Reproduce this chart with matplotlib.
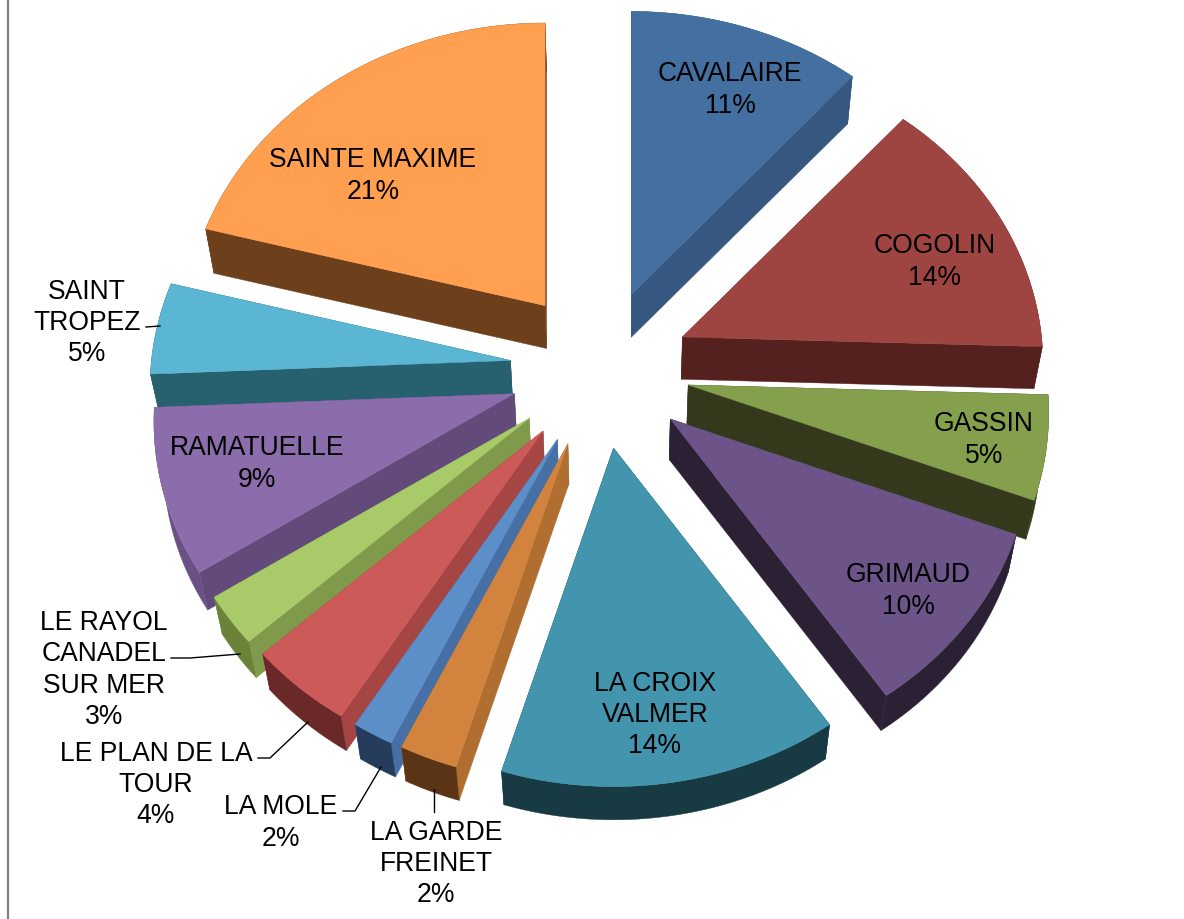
import numpy as np
import matplotlib
matplotlib.use("Agg")
import matplotlib.pyplot as plt
from matplotlib.patches import Polygon

NAMES = ["CAVALAIRE", "COGOLIN", "GASSIN", "GRIMAUD", "LA CROIX\nVALMER", "LA GARDE\nFREINET",
         "LA MOLE", "LE PLAN DE LA\nTOUR", "LE RAYOL\nCANADEL\nSUR MER", "RAMATUELLE",
         "SAINT\nTROPEZ", "SAINTE MAXIME"]
VALUES = [11.4, 14.1, 5.4, 9.7, 14.0, 2.4, 1.7, 4.4, 2.6, 8.6, 4.8, 20.9]

TOP = ["#4370A1", "#9E4541", "#84A04C", "#6D5488", "#4295AD", "#D2843F",
       "#5C8EC8", "#CB5A58", "#A9CA68", "#8A6DAA", "#5AB6D2", "#FF9F4F"]
RADIAL = ["#365780", "#54211E", "#34391C", "#2B2034", "#183A42", "#B06E30",
          "#4670A5", "#A64644", "#7F9A4A", "#624B7A", "#27606F", "#6E3F1B"]
ARC = ["#365780", "#54211E", "#34391C", "#2B2034", "#183A42", "#5A3415",
       "#253C5C", "#6A2829", "#6A8338", "#6A5085", "#27606F", "#6E3F1B"]
LABEL_XY = [(730, 90), (935, 262), (984, 440), (908, 591), (655, 715), (436, 864),
            (281, 823), (156, 785), (104, 670), (257, 464), (87, 323), (373, 176)]
LEADERS = [[(146, 328), (160, 327)],
           [(171, 659), (190, 659), (240, 655)],
           [(258, 759), (270, 759), (308, 723)],
           [(343, 812), (355, 812), (381, 768)],
           [(434, 790), (434, 813)]]

CX, CY = 600, 370      # pie centre
EX, EY = 90, 80        # explode offsets
RX, RY, P = 359, 308, 0.09
VX, VY, F = 620, 2450, 0.02   # extrusion converges toward this point


def rim(theta):
    d = 1 + P * np.cos(theta)
    return RX * np.sin(theta) / d, -RY * np.cos(theta) / d


def lower(x, y):
    x, y = np.asarray(x, float), np.asarray(y, float)
    return x + F * (VX - x), y + F * (VY - y)


fig = plt.figure(figsize=(11.84, 9.20), dpi=100)
ax = fig.add_axes([0, 0, 1, 1])
ax.set_xlim(0, 1184)
ax.set_ylim(920, 0)
ax.axis("off")

ax.plot([8, 8], [0, 920], color="#7F7F7F", lw=1.6, solid_capstyle="butt")

fracs = np.array(VALUES) / np.sum(VALUES)
edges = np.concatenate([[0], np.cumsum(fracs)]) * 2 * np.pi

slices = []
for i in range(len(VALUES)):
    t0, t1 = edges[i], edges[i + 1]
    mid = (t0 + t1) / 2
    ax_, ay_ = CX + EX * np.sin(mid), CY - EY * np.cos(mid)
    slices.append((ay_, i, t0, t1, ax_))

for ay_, i, t0, t1, ax_ in sorted(slices):
    th = np.linspace(t0, t1, 80)
    rx_, ry_ = rim(th)
    xs, ys = ax_ + rx_, ay_ + ry_
    lx, ly = lower(xs, ys)
    alx, aly = lower(ax_, ay_)
    z = 2 + ay_ / 1000
    for j in (0, -1):
        ax.add_patch(Polygon([(ax_, ay_), (xs[j], ys[j]), (lx[j], ly[j]), (alx, aly)],
                             closed=True, fc=RADIAL[i], ec=RADIAL[i], lw=0.3, zorder=z))
    wall = list(zip(xs, ys)) + list(zip(lx[::-1], ly[::-1]))
    ax.add_patch(Polygon(wall, closed=True, fc=ARC[i], ec=ARC[i], lw=0.3, zorder=z + 1e-4))
    top = [(ax_, ay_)] + list(zip(xs, ys))
    ax.add_patch(Polygon(top, closed=True, fc=TOP[i], ec=TOP[i], lw=0.3, zorder=z + 2e-4))

for name, v, (x, y) in zip(NAMES, VALUES, LABEL_XY):
    ax.text(x, y, f"{name}\n{round(v)}%", ha="center", va="center", fontsize=19.1, color="black",
            family=["Liberation Sans", "DejaVu Sans"], linespacing=1.27, zorder=10)

for pts in LEADERS:
    ax.plot(*zip(*pts), color="black", lw=1.0, zorder=9)

fig.savefig("out.png", dpi=100, facecolor="white")
